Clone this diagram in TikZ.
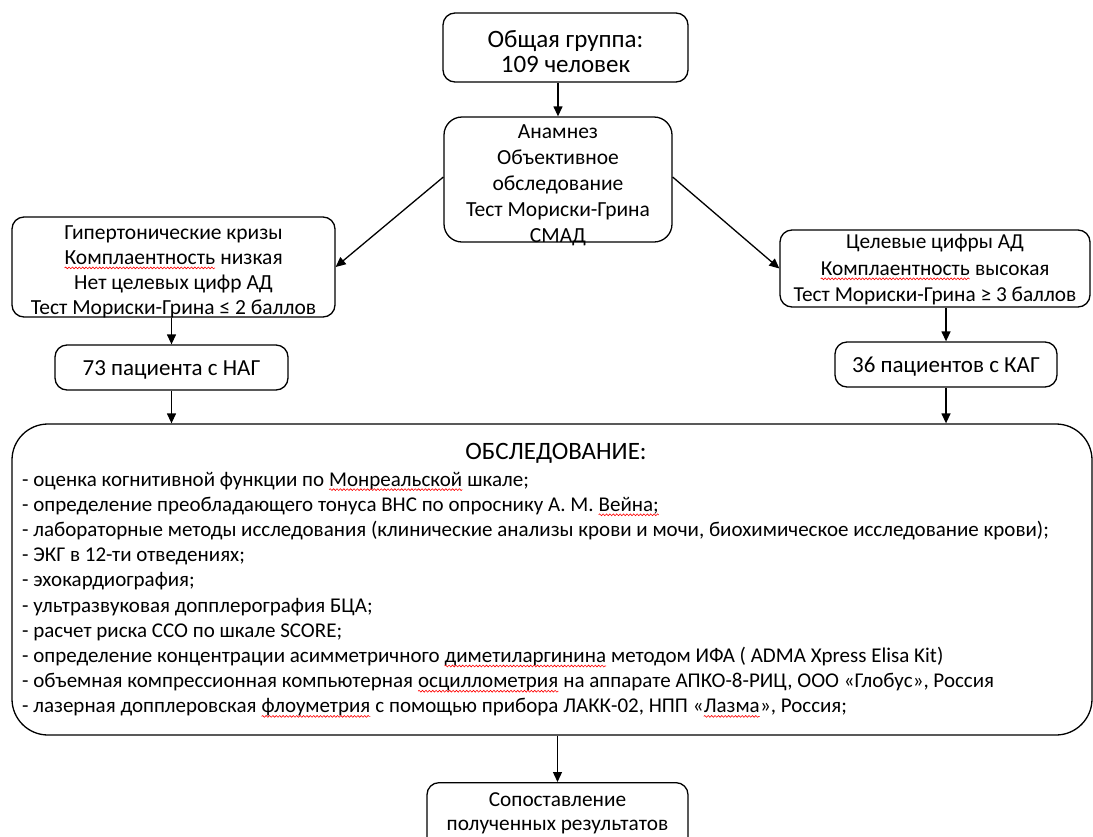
\documentclass[tikz,border=0pt]{standalone}
\usepackage{fontspec}
\setmainfont{Carlito}
\usetikzlibrary{arrows.meta,calc,decorations.pathmorphing}
\newcommand{\sqw}[1]{\tikz[baseline=(sqwn.base),x=1pt,y=1pt,sharp corners]{\node[inner sep=0pt,outer sep=0pt,draw=none,minimum width=0pt,minimum height=0pt] (sqwn) {#1};\draw[red,line width=0.6pt,sharp corners,decorate,decoration={snake,amplitude=0.9pt,segment length=3.4pt}] ([yshift=-3.6pt]sqwn.base west) -- ([yshift=-3.6pt]sqwn.base east);}}
\newcommand{\fs}[2]{\fontsize{#1}{#2}\selectfont}
\newcommand{\lns}[1]{\begin{tabular}[t]{@{}c@{}}#1\end{tabular}}
\tikzset{
  box/.style={draw, line width=1.3pt, rounded corners=12pt, inner sep=0pt},
  conn/.style={line width=1.3pt, -{Triangle[length=10pt,width=9pt]}},
  bodyline/.style={anchor=base west, inner sep=0pt, font=\fs{21}{25}}
}
\begin{document}
\begin{tikzpicture}[x=1pt,y=-1pt]
\useasboundingbox (0,0) rectangle (1093,836);
\clip (0,0) rectangle (1093,836);
\node[box, minimum width=245, minimum height=69, font=\fs{25}{24.8}, text height=0pt, text depth=0pt] (top) at (565.5,47.5) {\lns{Общая группа:\\109 человек}};
\node[box, rounded corners=18pt, minimum width=228, minimum height=125, font=\fs{21.5}{26}, text height=0pt, text depth=83pt] (anam) at (558,179.5) {\lns{Анамнез\\Объективное\\обследование\\Тест Мориски-Грина\\СМАД}};
\node[box, minimum width=323, minimum height=100, font=\fs{21.5}{25.3}, text height=0pt, text depth=56pt] (left) at (173.5,267) {\lns{Гипертонические кризы\\\sqw{Комплаентность} низкая\\Нет целевых цифр АД\\Тест Мориски-Грина ≤ 2 баллов}};
\node[box, minimum width=233, minimum height=45, font=\fs{23}{25}, text height=15pt, text depth=0pt] (n73) at (171.5,367.5) {73 пациента с НАГ};
\node[box, minimum width=310, minimum height=77, font=\fs{21.3}{26.7}, text height=0pt, text depth=40pt] (right) at (935,268.5) {\lns{Целевые цифры АД\\\sqw{Комплаентность} высокая\\Тест Мориски-Грина ≥ 3 баллов}};
\node[box, minimum width=222, minimum height=45, font=\fs{23}{25}, text height=15pt, text depth=0pt] (n36) at (946,364.5) {36 пациентов с КАГ};
\node[box, rounded corners=36pt, minimum width=1080, minimum height=311] (big) at (552,579.5) {};
\node[anchor=base, inner sep=0pt, font=\fs{25}{25}] (title) at (556,459.3) {ОБСЛЕДОВАНИЕ:};
\node[bodyline] (l1) at (22,486) {- оценка когнитивной функции по \sqw{Монреальской} шкале;};
\node[bodyline] (l2) at (22,511.2) {- определение преобладающего тонуса ВНС по опроснику А. М. \sqw{Вейна;}};
\node[bodyline] (l3) at (22,536.4) {- лабораторные методы исследования (клинические анализы крови и мочи, биохимическое исследование крови);};
\node[bodyline] (l4) at (22,561.6) {- ЭКГ в 12-ти отведениях;};
\node[bodyline] (l5) at (22,586.8) {- эхокардиография;};
\node[bodyline] (l6) at (22,612) {- ультразвуковая допплерография БЦА;};
\node[bodyline] (l7) at (22,637.2) {- расчет риска ССО по шкале SCORE;};
\node[bodyline] (l8) at (22,662.4) {- определение концентрации асимметричного \sqw{диметиларгинина} методом ИФА ( ADMA Xpress Elisa Kit)};
\node[bodyline] (l9) at (22,687.6) {- объемная компрессионная компьютерная \sqw{осциллометрия} на аппарате АПКО-8-РИЦ, ООО «Глобус», Россия};
\node[bodyline] (l10) at (22,712.8) {- лазерная допплеровская \sqw{флоуметрия} с помощью прибора ЛАКК-02, НПП «\sqw{Лазма}», Россия;};
\node[box, minimum width=261, minimum height=70, font=\fs{21.3}{23.5}, anchor=north, text height=0pt, text depth=22pt] (bot) at (557.5,782) {\lns{Сопоставление\\полученных результатов}};
\draw[conn] (top.south -| anam.north) -- (anam.north);
\draw[conn] ([yshift=2.5pt]anam.west) -- (left.east);
\draw[conn] ([yshift=2.5pt]anam.east) -- (right.west);
\draw[conn] (n73.north |- left.south) -- (n73.north);
\draw[conn] (n73.south) -- (n73.south |- big.north);
\draw[conn] (n36.north |- right.south) -- (n36.north);
\draw[conn] (n36.south) -- (n36.south |- big.north);
\draw[conn] (big.south -| bot.north) -- (bot.north);
\end{tikzpicture}
\end{document}
